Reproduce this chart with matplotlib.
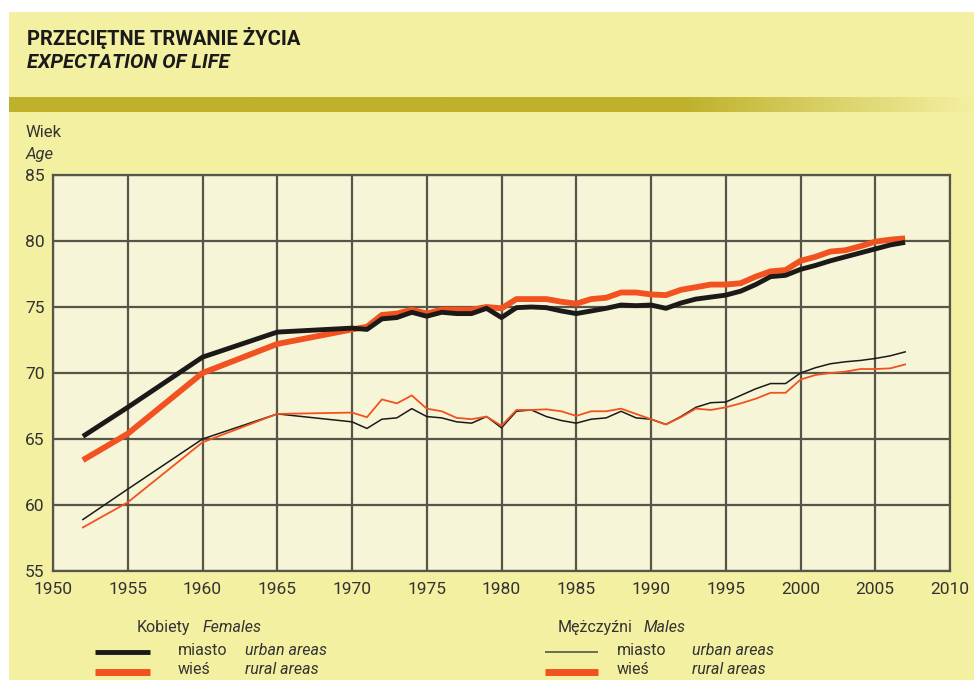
import numpy as np
import matplotlib
matplotlib.use("Agg")
import matplotlib.pyplot as plt
from matplotlib import font_manager
from matplotlib.patches import Rectangle
from matplotlib.colors import LinearSegmentedColormap

# ---------------- data ----------------
years = [1952, 1955, 1960, 1965, 1970, 1971, 1972, 1973, 1974, 1975, 1976, 1977,
         1978, 1979, 1980, 1981, 1982, 1983, 1984, 1985, 1986, 1987, 1988, 1989,
         1990, 1991, 1992, 1993, 1994, 1995, 1996, 1997, 1998, 1999, 2000, 2001,
         2002, 2003, 2004, 2005, 2006, 2007]

females_urban = [65.2, 67.4, 71.2, 73.1, 73.4, 73.3, 74.1, 74.2, 74.6, 74.3, 74.6, 74.5,
                 74.5, 74.9, 74.2, 74.95, 75.0, 74.95, 74.7, 74.5, 74.7, 74.9, 75.15, 75.1,
                 75.15, 74.9, 75.3, 75.6, 75.75, 75.9, 76.2, 76.7, 77.3, 77.4, 77.85, 78.15,
                 78.5, 78.8, 79.1, 79.4, 79.7, 79.9]

females_rural = [63.4, 65.4, 70.0, 72.2, 73.3, 73.5, 74.4, 74.5, 74.8, 74.5, 74.8, 74.8,
                 74.8, 75.0, 74.9, 75.6, 75.6, 75.6, 75.4, 75.25, 75.6, 75.7, 76.1, 76.1,
                 75.95, 75.9, 76.3, 76.5, 76.7, 76.7, 76.8, 77.3, 77.7, 77.8, 78.5, 78.8,
                 79.2, 79.3, 79.6, 79.95, 80.1, 80.2]

males_urban = [58.9, 61.2, 65.0, 66.9, 66.3, 65.8, 66.5, 66.6, 67.3, 66.7, 66.6, 66.3,
               66.2, 66.7, 65.85, 67.1, 67.2, 66.7, 66.4, 66.2, 66.5, 66.6, 67.1, 66.6,
               66.5, 66.1, 66.7, 67.4, 67.75, 67.8, 68.3, 68.8, 69.2, 69.2, 70.0, 70.4,
               70.7, 70.85, 70.95, 71.1, 71.3, 71.6]

males_rural = [58.3, 60.2, 64.75, 66.9, 67.0, 66.65, 68.0, 67.7, 68.3, 67.3, 67.1, 66.6,
               66.5, 66.7, 66.0, 67.2, 67.2, 67.25, 67.1, 66.75, 67.1, 67.1, 67.3, 66.9,
               66.5, 66.1, 66.65, 67.3, 67.2, 67.4, 67.7, 68.05, 68.5, 68.5, 69.5, 69.85,
               70.0, 70.1, 70.3, 70.3, 70.35, 70.65]

x_ticks = [1950, 1955, 1960, 1965, 1970, 1975, 1980, 1985, 1990, 1995, 2000, 2005, 2010]
y_ticks = [55, 60, 65, 70, 75, 80, 85]

# ---------------- style ----------------
names = {f.name for f in font_manager.fontManager.ttflist}
FONT = "Roboto" if "Roboto" in names else "Liberation Sans"
plt.rcParams['font.family'] = [FONT, 'DejaVu Sans']

PAGE = "#f4f0a2"
PLOT_BG = "#f6f5d8"
GRID = "#55554a"
BLACK = "#1c1a18"
ORANGE = "#f2521f"

W, H = 974, 680
fig = plt.figure(figsize=(W / 100, H / 100), dpi=100, facecolor="white")

def fx(px):
    return px / W

def fy(py):
    return 1 - py / H

# yellow page
fig.patches.append(Rectangle((fx(9), 0), 1 - fx(9), fy(12), transform=fig.transFigure,
                             facecolor=PAGE, edgecolor="none", zorder=-10))

# olive gradient band
band = fig.add_axes([fx(9), fy(112), 1 - fx(9), (112 - 97) / H])
grad = np.linspace(0, 1, 600)
alpha = np.clip((grad - 0.70) / 0.30, 0, 1)
cmap = LinearSegmentedColormap.from_list("band", ["#bfb12c", PAGE])
band.imshow(alpha[None, :], aspect="auto", cmap=cmap, vmin=0, vmax=1,
            extent=[0, 1, 0, 1], interpolation="bilinear")
band.set_axis_off()

# titles
fig.text(fx(27), fy(45), "PRZECIĘTNE TRWANIE ŻYCIA", fontsize=14.5, fontweight="bold",
         color="#1a1a1a", ha="left", va="baseline")
fig.text(fx(27), fy(68), "EXPECTATION OF LIFE", fontsize=14.5, fontweight="bold",
         fontstyle="italic", color="#1a1a1a", ha="left", va="baseline")
fig.text(fx(26), fy(137), "Wiek", fontsize=12, color="#333333", ha="left", va="baseline")
fig.text(fx(26), fy(159), "Age", fontsize=12, fontstyle="italic", color="#333333",
         ha="left", va="baseline")

# main axes
ax = fig.add_axes([fx(53), fy(571), (950 - 53) / W, (571 - 175) / H])
ax.set_facecolor(PLOT_BG)
ax.set_xlim(1950, 2010)
ax.set_ylim(55, 85)
ax.set_xticks(x_ticks)
ax.set_yticks(y_ticks)
ax.set_xticklabels([str(t) for t in x_ticks])
ax.set_yticklabels([str(t) for t in y_ticks])
ax.tick_params(length=0, labelsize=12.5, labelcolor="#333333", pad=8)
ax.tick_params(axis="y", pad=6)
ax.grid(True, color=GRID, linewidth=1.6)
ax.set_axisbelow(True)
for s in ax.spines.values():
    s.set_color(GRID)
    s.set_linewidth(1.6)

ax.plot(years, males_urban, color=BLACK, lw=1.1, zorder=3)
ax.plot(years, males_rural, color=ORANGE, lw=1.3, zorder=3)
ax.plot(years, females_rural, color=ORANGE, lw=4.2, zorder=4, solid_capstyle="butt")
ax.plot(years, females_urban, color=BLACK, lw=3.5, zorder=5, solid_capstyle="butt")

# legend
txt = "#333333"
R0, R1, R2 = 632, 655, 674
fs = 11.5
def put(x, y, s, italic=False):
    fig.text(fx(x), fy(y), s, fontsize=fs, color=txt, ha="left", va="baseline",
             fontstyle="italic" if italic else "normal")

put(137, R0, "Kobiety")
put(203, R0, "Females", True)
put(178, R1, "miasto")
put(245, R1, "urban areas", True)
put(178, R2, "wieś")
put(245, R2, "rural areas", True)

put(558, R0, "Mężczyźni")
put(644, R0, "Males", True)
put(617, R1, "miasto")
put(692, R1, "urban areas", True)
put(617, R2, "wieś")
put(692, R2, "rural areas", True)

legend_lines = [
    ((95, 150), R1 - 3, BLACK, 3.5),
    ((95, 150), R2 - 2, ORANGE, 5.0),
    ((545, 598), R1 - 3, "#555548", 1.2),
    ((545, 598), R2 - 2, ORANGE, 5.0),
]
for (x0, x1), yy, c, lw in legend_lines:
    fig.add_artist(plt.Line2D([fx(x0), fx(x1)], [fy(yy), fy(yy)], transform=fig.transFigure,
                              color=c, lw=lw, solid_capstyle="butt"))

fig.savefig("out.png", dpi=100, facecolor=fig.get_facecolor())
